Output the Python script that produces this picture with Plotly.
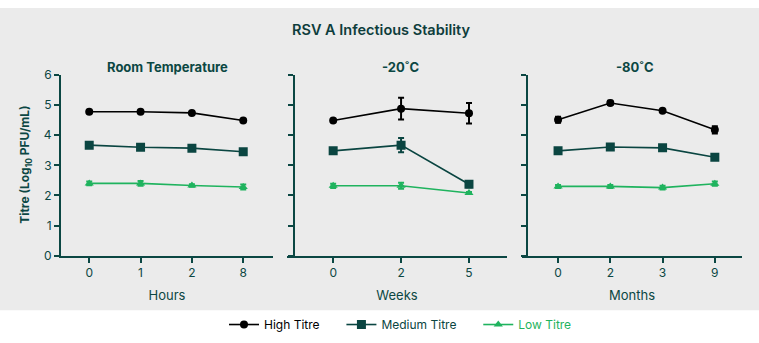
import plotly.graph_objects as go

# ---- data ----
panel_titles = ["Room Temperature", "-20˚C", "-80˚C"]
x_titles = ["Hours", "Weeks", "Months"]
x_labels = [["0", "1", "2", "8"], ["0", "2", "5"], ["0", "2", "3", "9"]]

high = [[4.78, 4.78, 4.74, 4.49], [4.49, 4.88, 4.73], [4.51, 5.07, 4.81, 4.18]]
high_err = [[0.03, 0.03, 0.03, 0.03], [0.03, 0.36, 0.34], [0.10, 0.07, 0.03, 0.12]]
medium = [[3.67, 3.60, 3.57, 3.45], [3.48, 3.67, 2.37], [3.48, 3.61, 3.58, 3.27]]
medium_err = [[0.03, 0.03, 0.03, 0.03], [0.03, 0.24, 0.10], [0.03, 0.03, 0.03, 0.03]]
low = [[2.40, 2.40, 2.33, 2.28], [2.32, 2.32, 2.08], [2.30, 2.30, 2.26, 2.39]]
low_err = [[0.06, 0.08, 0.04, 0.08], [0.07, 0.10, 0.03], [0.05, 0.05, 0.06, 0.07]]

series = [
    ("High Titre", high, high_err, "#000000", "circle", 8),
    ("Medium Titre", medium, medium_err, "#0a4541", "square", 9),
    ("Low Titre", low, low_err, "#1fb35e", "triangle-up", 8),
]

W, H = 759, 343
AX = "#0b4743"
FONT = "Inter, Lato, sans-serif"
NB = "\u00a0"

x_dom_px = [(61, 273), (287, 507), (522, 742)]
y_axis_px = [61, 294, 527]
x_ranges = [[-0.55, 3.58], [-0.68, 2.56], [-0.69, 3.52]]
y_dom = [(H - 259) / H, (H - 70) / H]

fig = go.Figure()

for p in range(3):
    xa = "x" if p == 0 else f"x{p+1}"
    ya = "y" if p == 0 else f"y{p+1}"
    for i, (name, vals, errs, col, sym, msz) in enumerate(series):
        pad = NB * 5 if i < 2 else ""
        lname = f"<span style='color:{col}'>{name}</span>{pad}"
        fig.add_trace(go.Scatter(
            x=x_labels[p], y=vals[p], mode="lines+markers",
            name=lname, legendgroup=name, showlegend=(p == 0),
            line=dict(color=col, width=1.6),
            marker=dict(color=col, symbol=sym, size=msz),
            error_y=dict(type="data", array=errs[p], color=col, thickness=2, width=3),
            xaxis=xa, yaxis=ya,
        ))

layout = dict(
    width=W, height=H,
    margin=dict(l=0, r=0, t=0, b=0),
    paper_bgcolor="white",
    plot_bgcolor="rgba(0,0,0,0)",
    font=dict(family=FONT, color=AX, size=12),
    showlegend=True,
    legend=dict(orientation="h", x=224 / W, xanchor="left", y=(H - 331) / H, yanchor="middle",
                font=dict(size=12, color="#000000", family=FONT), itemwidth=30,
                bgcolor="rgba(0,0,0,0)", tracegroupgap=0),
)

for p in range(3):
    xk = "xaxis" if p == 0 else f"xaxis{p+1}"
    yk = "yaxis" if p == 0 else f"yaxis{p+1}"
    layout[xk] = dict(
        domain=[x_dom_px[p][0] / W, x_dom_px[p][1] / W],
        anchor="y" if p == 0 else f"y{p+1}",
        type="category", range=x_ranges[p],
        showline=True, linecolor=AX, linewidth=2,
        ticks="outside", ticklen=5, tickwidth=2, tickcolor=AX,
        showgrid=False, zeroline=False,
        tickfont=dict(size=12, color=AX),
        title=dict(text=x_titles[p], font=dict(size=13, color=AX), standoff=12),
    )
    yd = dict(
        domain=list(y_dom),
        range=[0, 6], tickvals=[0, 1, 2, 3, 4, 5, 6],
        showticklabels=(p == 0),
        showline=True, linecolor=AX, linewidth=2,
        ticks="outside", ticklen=5, tickwidth=2, tickcolor=AX,
        showgrid=False, zeroline=False,
        tickfont=dict(size=12, color=AX),
    )
    if p == 0:
        yd["anchor"] = "x"
    else:
        yd["anchor"] = "free"
        yd["position"] = y_axis_px[p] / W
    layout[yk] = yd

fig.update_layout(**layout)

# grey backdrop
fig.add_shape(type="rect", xref="paper", yref="paper", x0=0, x1=1,
              y0=(H - 316) / H, y1=1, fillcolor="#ebebeb", line=dict(width=0), layer="below")

# titles
fig.add_annotation(text="RSV A Infectious Stability", xref="paper", yref="paper",
                   x=381 / W, y=(H - 22) / H, showarrow=False,
                   font=dict(size=14.5, color="#0e3d3c", family=FONT, weight=600),
                   xanchor="center", yanchor="middle")
for p in range(3):
    cx = (max(x_dom_px[p][0], y_axis_px[p]) + x_dom_px[p][1]) / 2
    fig.add_annotation(text=f"<b>{panel_titles[p]}</b>", xref="paper", yref="paper",
                       x=cx / W, y=(H - 62) / H, showarrow=False,
                       font=dict(size=13, color=AX, family=FONT), xanchor="center", yanchor="middle")

fig.add_annotation(text="<b>Titre (Log<sub>10</sub> PFU/mL)</b>", xref="paper", yref="paper",
                   x=26 / W, y=(H - 164) / H, textangle=-90, showarrow=False,
                   font=dict(size=12, color=AX, family=FONT), xanchor="center", yanchor="middle")

fig.write_html("out.html")
